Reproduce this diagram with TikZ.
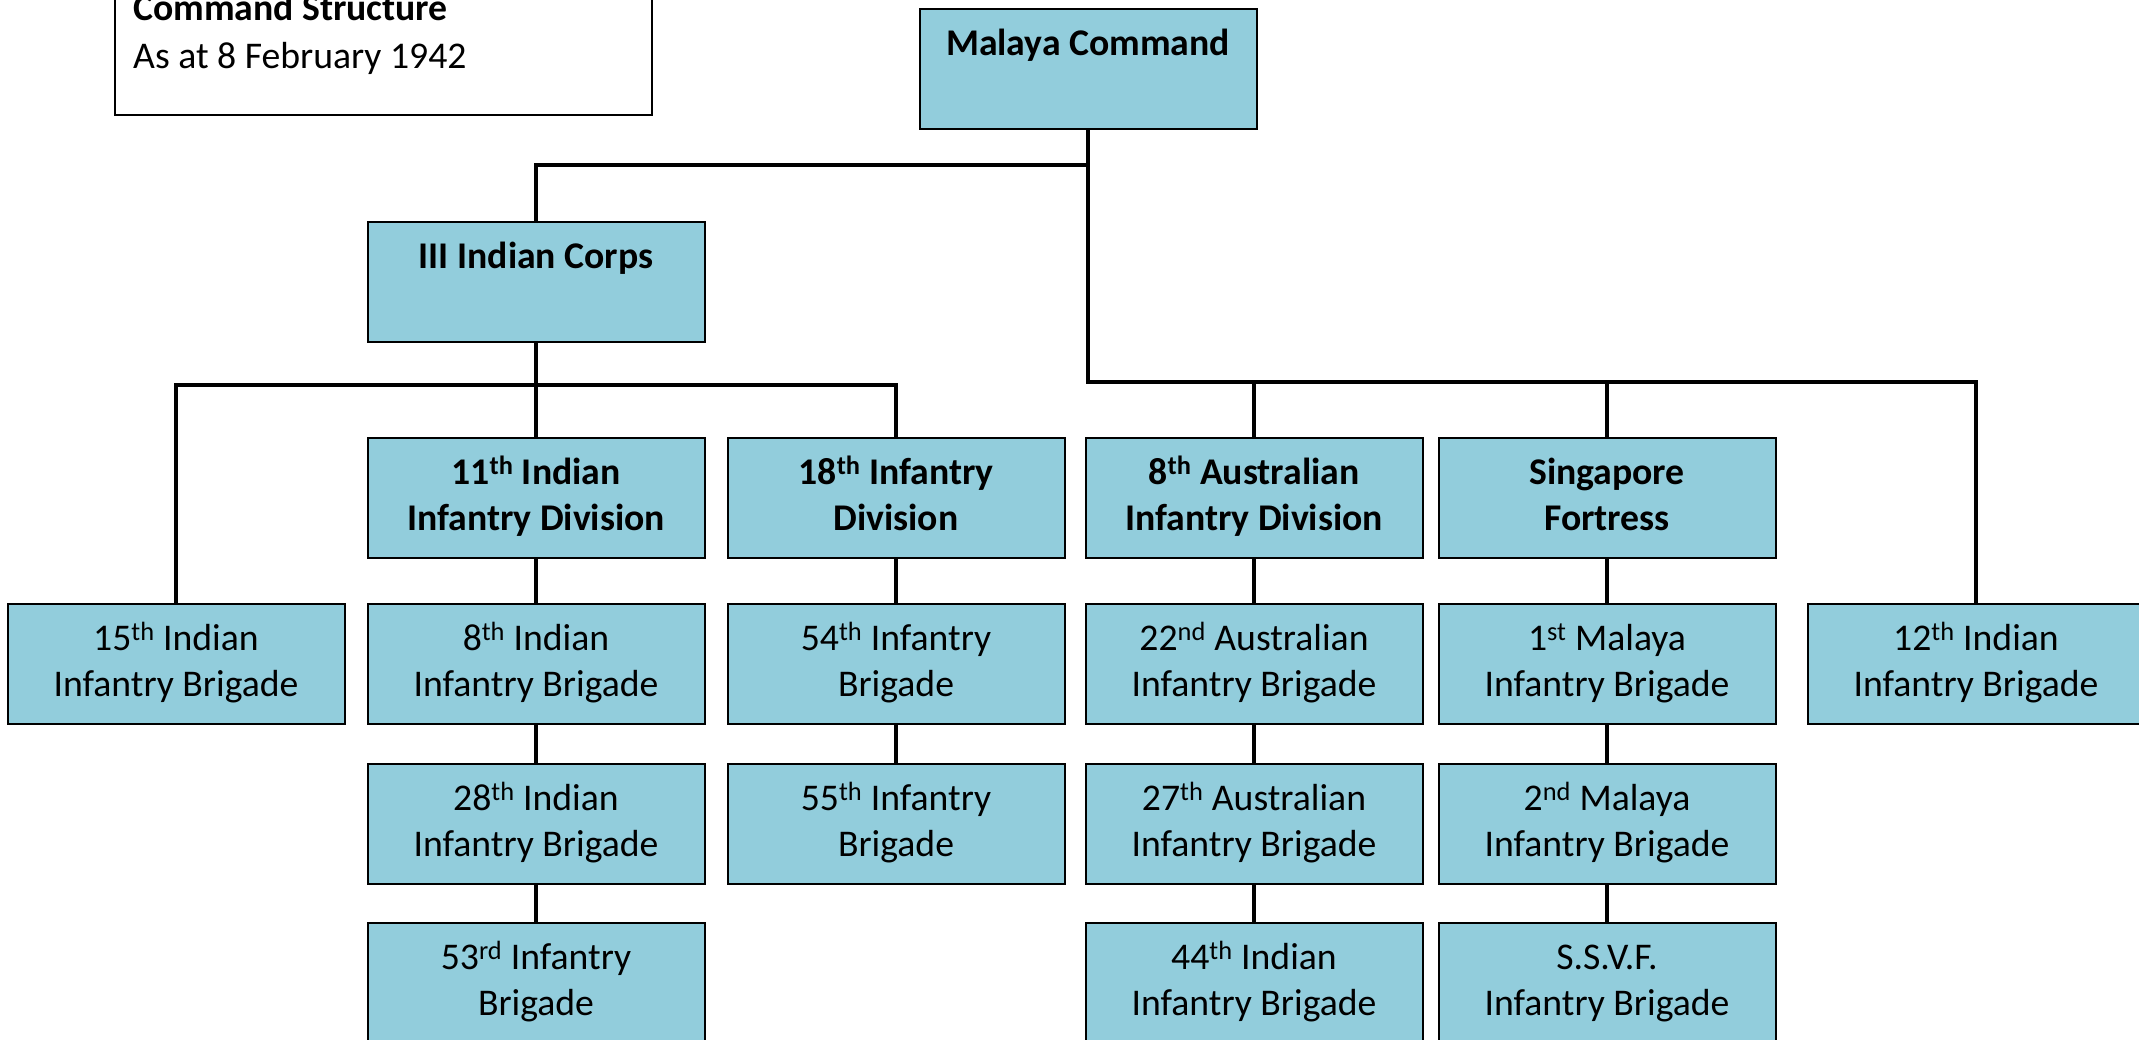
\documentclass[tikz,border=0pt]{standalone}
\usepackage{fontspec}
\setmainfont{Carlito}
\definecolor{orgblue}{HTML}{92CDDC}

\begin{document}
\begin{tikzpicture}[x=1pt,y=-1pt,
  unit/.style={draw=black,line width=2pt,fill=orgblue,anchor=north,
    minimum width=337pt,inner sep=0pt,align=center,
    text height=92pt,text depth=28pt,
    font=\fontsize{37.7}{46}\selectfont},
  div/.style={unit,font=\fontsize{37.7}{46}\selectfont\bfseries},
  hq/.style={div,text height=46pt,text depth=74pt},
  link/.style={line width=4pt,line cap=rect}]
\useasboundingbox (0,0) rectangle (2139,1039);

% legend
\draw[line width=2pt] (115,-40) rectangle (652,115);
\node[anchor=base west,inner sep=0pt,font=\fontsize{37.7}{46}\selectfont\bfseries]
  (lgtitle) at (133,20) {Command Structure};
\node[anchor=base west,inner sep=0pt,font=\fontsize{37.7}{46}\selectfont]
  (lgdate) at (133,68) {As at 8 February 1942};

% rails
\coordinate (railL) at (0,165);
\coordinate (railR) at (0,382);
\coordinate (railC) at (0,385);

% headquarters
\node[hq] (mc) at (1088,8) {Malaya Command};
\node[hq] (corps3) at (536,221) {III Indian Corps};

% divisions
\node[div] (div11) at (536,437) {11\textsuperscript{th} Indian\\Infantry Division};
\node[div] (div18) at (896,437) {18\textsuperscript{th} Infantry\\Division};
\node[div] (div8aus) at (1254,437) {8\textsuperscript{th} Australian\\Infantry Division};
\node[div] (sgfort) at (1607,437) {Singapore\\Fortress};

% brigades
\node[unit] (bde15) at (176,603) {15\textsuperscript{th} Indian\\Infantry Brigade};
\node[unit] (bde8) at (536,603) {8\textsuperscript{th} Indian\\Infantry Brigade};
\node[unit] (bde28) at (536,763) {28\textsuperscript{th} Indian\\Infantry Brigade};
\node[unit] (bde53) at (536,922) {53\textsuperscript{rd} Infantry\\Brigade};
\node[unit] (bde54) at (896,603) {54\textsuperscript{th} Infantry\\Brigade};
\node[unit] (bde55) at (896,763) {55\textsuperscript{th} Infantry\\Brigade};
\node[unit] (bde22) at (1254,603) {22\textsuperscript{nd} Australian\\Infantry Brigade};
\node[unit] (bde27) at (1254,763) {27\textsuperscript{th} Australian\\Infantry Brigade};
\node[unit] (bde44) at (1254,922) {44\textsuperscript{th} Indian\\Infantry Brigade};
\node[unit] (bde1m) at (1607,603) {1\textsuperscript{st} Malaya\\Infantry Brigade};
\node[unit] (bde2m) at (1607,763) {2\textsuperscript{nd} Malaya\\Infantry Brigade};
\node[unit] (ssvf) at (1607,922) {S.S.V.F.\\Infantry Brigade};
\node[unit] (bde12) at (1976,603) {12\textsuperscript{th} Indian\\Infantry Brigade};

% connectors
\draw[link] (mc.south) -- (mc.south |- railR);
\draw[link] (mc.south |- railL) -| (corps3.north);
\draw[link] (mc.south |- railR) -| (bde12.north);
\draw[link] (div8aus.north) -- (div8aus.north |- railR);
\draw[link] (sgfort.north) -- (sgfort.north |- railR);
\draw[link] (corps3.south) -- (div11.north);
\draw[link] (bde15.north) |- (div18.north |- railC) -- (div18.north);
\foreach \a/\b in {div11/bde8,bde8/bde28,bde28/bde53,div18/bde54,bde54/bde55,
  div8aus/bde22,bde22/bde27,bde27/bde44,sgfort/bde1m,bde1m/bde2m,bde2m/ssvf}
  \draw[link] (\a.south) -- (\b.north);
\end{tikzpicture}
\end{document}
